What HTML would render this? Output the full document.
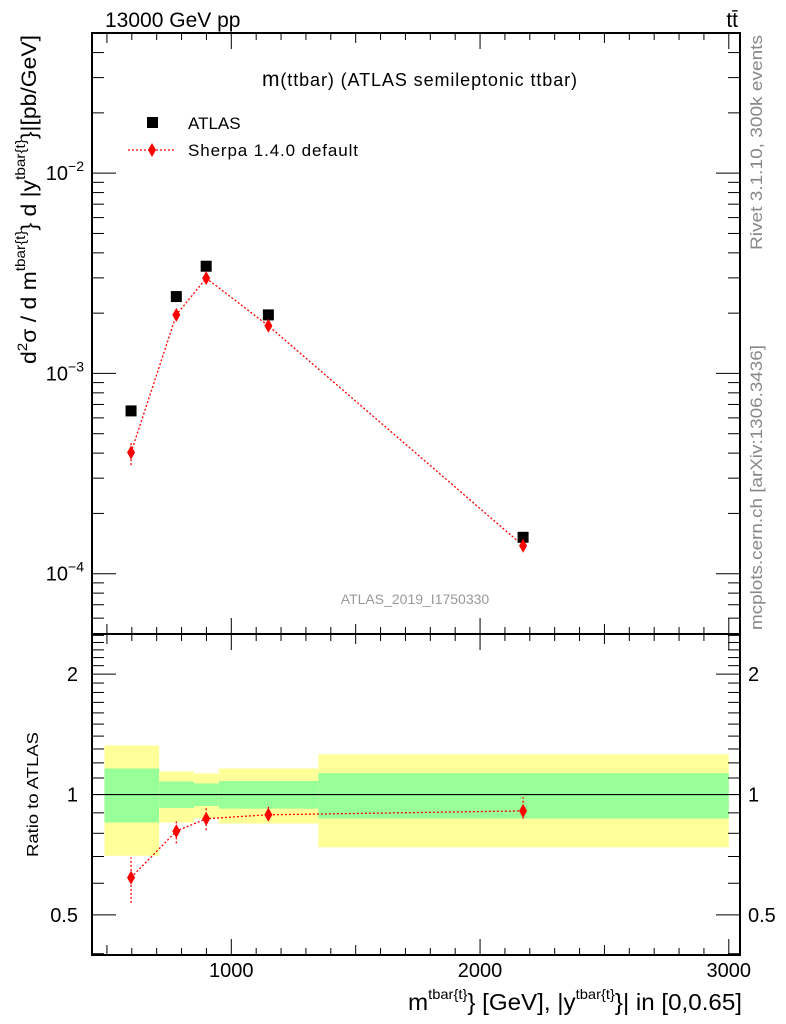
<!DOCTYPE html>
<html><head><meta charset="utf-8">
<style>
body{margin:0;background:#fff;}
svg{display:block;font-family:"Liberation Sans",sans-serif;}
</style></head>
<body>
<svg id="chart" width="786" height="1024" viewBox="0 0 786 1024" xmlns="http://www.w3.org/2000/svg">
<g id="bands"></g>
<g id="frame"></g>
<g id="series"></g>
<text x="105" y="27" font-size="21">13000 GeV pp</text>
<text x="738" y="27" font-size="21" text-anchor="end">tt̄</text>
<text x="262" y="86" font-size="18" textLength="315"><tspan font-size="21">m</tspan>(ttbar) (ATLAS semileptonic ttbar)</text>
<g>
<rect x="147" y="117" width="11" height="11" fill="#000"/>
<text x="188" y="129" font-size="17">ATLAS</text>
<line x1="128" y1="150" x2="176" y2="150" stroke="red" stroke-width="1.3" stroke-dasharray="2,2"/>
<path d="M152,143 L156,150 L152,157 L148,150 Z" fill="red"/>
<text x="188" y="156" font-size="17" textLength="170">Sherpa 1.4.0 default</text>
</g>
<text x="415" y="604" font-size="14" fill="#999" text-anchor="middle">ATLAS_2019_I1750330</text>
<text transform="translate(762,250) rotate(-90)" font-size="17" fill="#888" textLength="215" lengthAdjust="spacingAndGlyphs">Rivet 3.1.10,  300k events</text>
<text transform="translate(762,630) rotate(-90)" font-size="17" fill="#888" textLength="285" lengthAdjust="spacingAndGlyphs">mcplots.cern.ch [arXiv:1306.3436]</text>
<text transform="translate(36,364) rotate(-90)" font-size="21" textLength="329" lengthAdjust="spacingAndGlyphs">d<tspan dy="-9" font-size="14">2</tspan><tspan dy="9">σ  /  d m</tspan><tspan dy="-11" font-size="14">tbar{t}</tspan><tspan dy="11">} d |y</tspan><tspan dy="-11" font-size="14">tbar{t}</tspan><tspan dy="11">}|[pb/GeV]</tspan></text>
<text transform="translate(38,857) rotate(-90)" font-size="16" textLength="125" lengthAdjust="spacingAndGlyphs">Ratio to ATLAS</text>
<text x="408" y="1010" font-size="23" textLength="334" lengthAdjust="spacingAndGlyphs">m<tspan dy="-11" font-size="14">tbar{t}</tspan><tspan dy="11">} [GeV], |y</tspan><tspan dy="-11" font-size="14">tbar{t}</tspan><tspan dy="11">}| in [0,0.65]</tspan></text>
</svg>
<script>
const xCenters=[597,779,899,1149,2173];
const atlasVals=[6.5e-4,2.42e-3,3.43e-3,1.96e-3,1.52e-4];
const sherpaVals=[4.03e-4,1.96e-3,2.99e-3,1.73e-3,1.38e-4];
const ratioVals=[0.62,0.81,0.87,0.89,0.91];
const ratioErrLo=[0.536,0.755,0.814,0.86,0.87];
const ratioErrHi=[0.696,0.863,0.93,0.94,0.985];
const binEdges=[490,710,850,950,1350,3000];
const yellowHi=[1.327,1.142,1.129,1.162,1.26];
const yellowLo=[0.703,0.851,0.871,0.846,0.738];
const greenHi=[1.162,1.078,1.066,1.081,1.131];
const greenLo=[0.851,0.925,0.936,0.922,0.871];
const xTickLabels=[1000,2000,3000];
const mainTickExps=[-2,-3,-4];
const ratioTickLabels=[2,1,0.5];

const NS="http://www.w3.org/2000/svg";
const L=92,R=740,T1=33,B1=634,T2=634,B2=955;
const XMIN=440,XMAX=3045;
const sx=v=>L+(v-XMIN)/(XMAX-XMIN)*(R-L);
const LMIN=Math.log10(5e-5),LMAX=Math.log10(0.0501);
const sy=v=>B1-(Math.log10(v)-LMIN)/(LMAX-LMIN)*(B1-T1);
const RMIN=Math.log2(0.397),RMAX=Math.log2(2.52);
const ry=v=>B2-(Math.log2(v)-RMIN)/(RMAX-RMIN)*(B2-T2);
function mk(tag,attrs,parent){const e=document.createElementNS(NS,tag);for(const k in attrs)e.setAttribute(k,attrs[k]);parent.appendChild(e);return e;}
const gB=document.getElementById('bands'),gF=document.getElementById('frame'),gS=document.getElementById('series');

for(let i=0;i<yellowHi.length;i++){
 const x0=sx(binEdges[i]),x1=sx(binEdges[i+1]);
 const y=mk('rect',{x:x0,y:ry(yellowHi[i]),width:x1-x0,height:ry(yellowLo[i])-ry(yellowHi[i]),fill:'#ffff99'},gB);
 
 
 const g=mk('rect',{x:x0,y:ry(greenHi[i]),width:x1-x0,height:ry(greenLo[i])-ry(greenHi[i]),fill:'#99ff99'},gB);
 
 
}
const one=mk('line',{x1:L,x2:R,y1:ry(1),y2:ry(1),stroke:'#000','stroke-width':1.2},gB);



[[T1,B1],[T2,B2]].forEach(([t,b])=>{
 const r=mk('rect',{x:L,y:t,width:R-L,height:b-t,fill:'none',stroke:'#000','stroke-width':2},gF);
 
 
});
for(let v=500;v<=3000;v+=100){
 [[T1,1],[B1,-1],[T2,1],[B2,-1]].forEach(([y,d])=>{
  const len2=(v%1000===0)?16:(v%500===0?10:7);
  mk('line',{x1:sx(v),x2:sx(v),y1:y,y2:y+d*len2,stroke:'#000','stroke-width':1},gF);
 });
}
xTickLabels.forEach(v=>{
 const t=mk('text',{x:sx(v),y:977,'font-size':20,'text-anchor':'middle'},gF);t.textContent=v;
 
 
});
for(let e=-5;e<=-1;e++)for(let m=1;m<=9;m++){
 const v=m*Math.pow(10,e);if(v<5e-5||v>0.0501)continue;
 const y=sy(v),len=m===1?24:12;
 mk('line',{x1:L,x2:L+len,y1:y,y2:y,stroke:'#000'},gF);
 mk('line',{x1:R,x2:R-len,y1:y,y2:y,stroke:'#000'},gF);
}
mainTickExps.forEach(e=>{
 const t=mk('text',{x:84,y:sy(Math.pow(10,e))+7,'font-size':20,'text-anchor':'end'},gF);
 t.innerHTML='10<tspan dy="-9" font-size="14">'+(e<0?'−':'')+Math.abs(e)+'</tspan>';
 
 
});
for(let v=0.4;v<=2.5001;v+=0.1){
 const vv=Math.round(v*10)/10;const y=ry(vv);
 const big=(vv===0.5||vv===1||vv===2);const len=big?24:12;
 mk('line',{x1:L,x2:L+len,y1:y,y2:y,stroke:'#000'},gF);
 mk('line',{x1:R,x2:R-len,y1:y,y2:y,stroke:'#000'},gF);
}
ratioTickLabels.forEach(v=>{
 const a=mk('text',{x:78,y:ry(v)+7,'font-size':20,'text-anchor':'end'},gF);a.textContent=v;
 
 
 const b=mk('text',{x:748,y:ry(v)+7,'font-size':20},gF);b.textContent=v;
 
 
});

const dash={stroke:'red','stroke-width':1.3,'stroke-dasharray':'2,2',fill:'none'};
const mainLine=mk('polyline',Object.assign({points:xCenters.map((x,i)=>sx(x)+','+sy(sherpaVals[i])).join(' ')},dash),gS);


const ratioLine=mk('polyline',Object.assign({points:xCenters.map((x,i)=>sx(x)+','+ry(ratioVals[i])).join(' ')},dash),gS);


xCenters.forEach((x,i)=>{
 const px=sx(x);
 const s=mk('rect',{x:px-5.5,y:sy(atlasVals[i])-5.5,width:11,height:11,fill:'#000'},gS);
 
 
 const fLo=ratioErrLo[i]/ratioVals[i],fHi=ratioErrHi[i]/ratioVals[i];
 mk('line',Object.assign({x1:px,x2:px,y1:sy(sherpaVals[i]*fLo),y2:sy(sherpaVals[i]*fHi)},dash),gS);
 mk('line',Object.assign({x1:px,x2:px,y1:ry(ratioErrLo[i]),y2:ry(ratioErrHi[i])},dash),gS);
 [[sy(sherpaVals[i]),'sherpa-point'],[ry(ratioVals[i]),'sherpa-ratio-point']].forEach(([py,n])=>{
  const d=mk('path',{d:`M${px},${py-7} L${px+4},${py} L${px},${py+7} L${px-4},${py} Z`,fill:'red'},gS);
  
  
 });
});
</script>
</body></html>
